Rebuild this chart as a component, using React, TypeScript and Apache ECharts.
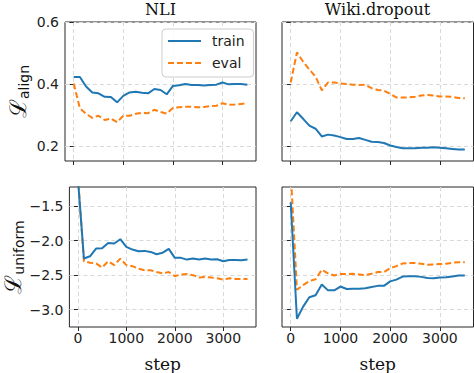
import React, { useEffect, useRef } from 'react';
import * as echarts from 'echarts';

const steps = [0, 125, 250, 375, 500, 625, 750, 875, 1000, 1125, 1250, 1375, 1500, 1625, 1750, 1875, 2000, 2125, 2250, 2375, 2500, 2625, 2750, 2875, 3000, 3125, 3250, 3375, 3500];

const nliAlignTrain = [0.423, 0.423, 0.392, 0.373, 0.370, 0.359, 0.358, 0.341, 0.362, 0.373, 0.375, 0.372, 0.370, 0.384, 0.381, 0.367, 0.394, 0.396, 0.400, 0.397, 0.397, 0.395, 0.397, 0.398, 0.405, 0.399, 0.400, 0.400, 0.398];
const nliAlignEval = [0.402, 0.322, 0.304, 0.291, 0.298, 0.284, 0.289, 0.277, 0.298, 0.298, 0.304, 0.307, 0.306, 0.317, 0.310, 0.305, 0.323, 0.325, 0.327, 0.327, 0.325, 0.326, 0.329, 0.330, 0.338, 0.333, 0.334, 0.336, 0.338];
const wikiAlignTrain = [0.280, 0.309, 0.288, 0.266, 0.256, 0.231, 0.237, 0.234, 0.229, 0.223, 0.223, 0.226, 0.220, 0.214, 0.213, 0.210, 0.202, 0.197, 0.193, 0.193, 0.193, 0.195, 0.195, 0.196, 0.195, 0.193, 0.191, 0.189, 0.189];
const wikiAlignEval = [0.405, 0.502, 0.472, 0.447, 0.424, 0.380, 0.405, 0.405, 0.402, 0.400, 0.398, 0.397, 0.398, 0.387, 0.381, 0.379, 0.368, 0.357, 0.357, 0.357, 0.359, 0.363, 0.365, 0.363, 0.360, 0.360, 0.359, 0.355, 0.354];

const nliUniformTrain = [-1.1, -2.26, -2.227, -2.116, -2.111, -2.034, -2.043, -1.98, -2.09, -2.13, -2.154, -2.149, -2.164, -2.198, -2.175, -2.12, -2.25, -2.25, -2.275, -2.26, -2.275, -2.26, -2.275, -2.27, -2.3, -2.28, -2.28, -2.285, -2.275];
const nliUniformEval = [-1.05, -2.3, -2.32, -2.33, -2.39, -2.3, -2.355, -2.26, -2.355, -2.37, -2.405, -2.43, -2.43, -2.455, -2.475, -2.455, -2.515, -2.49, -2.485, -2.5, -2.535, -2.525, -2.535, -2.545, -2.565, -2.545, -2.555, -2.555, -2.555];
const wikiUniformTrain = [-1.445, -3.13, -2.955, -2.82, -2.79, -2.635, -2.72, -2.72, -2.665, -2.7, -2.695, -2.695, -2.69, -2.67, -2.655, -2.655, -2.59, -2.565, -2.52, -2.515, -2.515, -2.525, -2.54, -2.545, -2.535, -2.53, -2.52, -2.505, -2.505];
const wikiUniformEval = [-1.0, -2.71, -2.645, -2.585, -2.56, -2.422, -2.475, -2.505, -2.482, -2.485, -2.48, -2.49, -2.5, -2.48, -2.455, -2.455, -2.4, -2.37, -2.33, -2.325, -2.325, -2.335, -2.35, -2.345, -2.34, -2.335, -2.32, -2.315, -2.315];

const xTicks = [0, 1000, 2000, 3000];
const alignTicks = [0.2, 0.4, 0.6];
const uniformTicks = [-3.0, -2.5, -2.0, -1.5];
const columnTitles = ['NLI', 'Wiki.dropout'];

const BLUE = '#1f77b4';
const ORANGE = '#ff7f0e';
const TICK_FONT = 'DejaVu Sans';
const SERIF = 'DejaVu Serif';

const fmt = (v: number) => v.toFixed(1).replace('-', '\u2212');

export default function App() {
  const ref = useRef<HTMLDivElement>(null);
  useEffect(() => {
    if (!ref.current) return;
    const chart = echarts.init(ref.current, null, { renderer: 'svg' });

    const grids = [
      { left: 65, top: 22, width: 191, height: 139 },
      { left: 282, top: 22, width: 191.5, height: 139 },
      { left: 65, top: 187, width: 191, height: 140 },
      { left: 282, top: 187, width: 191.5, height: 140 },
    ].map((g) => ({ ...g, show: true, borderColor: '#262626', borderWidth: 1, backgroundColor: '#fff', containLabel: false }));

    const splitLine = { show: true, lineStyle: { color: '#d9d9d9', type: [4, 3] as any, width: 1 } };
    const axisTickBase = { show: true, length: 4, lineStyle: { color: '#262626', width: 1 } };

    const xAxes = [0, 1, 2, 3].map((i) => {
      const bottom = i >= 2;
      return {
        type: 'value',
        gridIndex: i,
        min: -175,
        max: 3675,
        axisLine: { show: false },
        axisTick: { ...axisTickBase, customValues: xTicks },
        axisLabel: {
          show: bottom,
          customValues: xTicks,
          formatter: (v: number) => String(Math.round(v)),
          fontFamily: TICK_FONT,
          fontSize: 14,
          color: '#222',
          margin: 4,
        },
        splitLine,
        name: bottom ? 'step' : '',
        nameLocation: 'middle',
        nameGap: 28,
        nameTextStyle: { fontFamily: SERIF, fontSize: 17, color: '#111' },
      };
    });

    const yName = (sub: string) => '{L|\u2112}{s|' + sub + '}';
    const yRich = {
      L: { fontSize: 23, fontFamily: SERIF, color: '#111', lineHeight: 26 },
      s: { fontSize: 14, fontFamily: TICK_FONT, color: '#111', verticalAlign: 'bottom', lineHeight: 14, padding: [8, 0, 0, 0] },
    };

    const yAxes = [0, 1, 2, 3].map((i) => {
      const top = i < 2;
      const left = i % 2 === 0;
      const ticks = top ? alignTicks : uniformTicks;
      return {
        type: 'value',
        gridIndex: i,
        min: top ? 0.152 : -3.25,
        max: top ? 0.6 : -1.225,
        axisLine: { show: false },
        axisTick: { ...axisTickBase, customValues: ticks },
        axisLabel: {
          show: left,
          customValues: ticks,
          formatter: (v: number) => fmt(v),
          fontFamily: TICK_FONT,
          fontSize: 14,
          color: '#222',
          margin: 6,
        },
        splitLine,
        name: left ? yName(top ? 'align' : 'uniform') : '',
        nameLocation: 'middle',
        nameRotate: 90,
        nameGap: 34,
        nameTextStyle: { rich: yRich },
      };
    });

    const mk = (name: string, idx: number, arr: number[]) => ({
      name,
      type: 'line',
      xAxisIndex: idx,
      yAxisIndex: idx,
      data: steps.map((s, k) => [s, arr[k]]),
      showSymbol: false,
      symbol: 'none',
      clip: true,
      lineStyle: name === 'train'
        ? { color: BLUE, width: 2 }
        : { color: ORANGE, width: 2, type: [6, 3] },
      itemStyle: { color: name === 'train' ? BLUE : ORANGE },
      z: name === 'train' ? 3 : 2,
    });

    chart.setOption({
      animation: false,
      backgroundColor: '#fff',
      grid: grids,
      xAxis: xAxes,
      yAxis: yAxes,
      legend: {
        data: ['train', 'eval'],
        left: 162,
        top: 29,
        orient: 'vertical',
        itemWidth: 33,
        itemHeight: 14,
        itemGap: 8,
        padding: [5, 9, 7, 5],
        itemStyle: { opacity: 0 },
        backgroundColor: 'rgba(255,255,255,0.85)',
        borderColor: '#cccccc',
        borderWidth: 1,
        borderRadius: 4,
        textStyle: { fontFamily: TICK_FONT, fontSize: 14, color: '#222', padding: [0, 0, 0, 6] },
      },
      graphic: [
        { type: 'text', x: 160.5, y: 9, style: { text: columnTitles[0], font: '16px "DejaVu Serif"', fill: '#111', textAlign: 'center', textVerticalAlign: 'middle' } },
        { type: 'text', x: 377.5, y: 9, style: { text: columnTitles[1], font: '16px "DejaVu Serif"', fill: '#111', textAlign: 'center', textVerticalAlign: 'middle' } },
      ],
      series: [
        mk('train', 0, nliAlignTrain),
        mk('eval', 0, nliAlignEval),
        mk('train', 1, wikiAlignTrain),
        mk('eval', 1, wikiAlignEval),
        mk('train', 2, nliUniformTrain),
        mk('eval', 2, nliUniformEval),
        mk('train', 3, wikiUniformTrain),
        mk('eval', 3, wikiUniformEval),
      ],
    });
    return () => chart.dispose();
  }, []);

  return (
    <div
      ref={ref}
      style={{ position: 'absolute', left: 0, top: 0, width: 474, height: 373, background: '#fff' }}
    />
  );
}
